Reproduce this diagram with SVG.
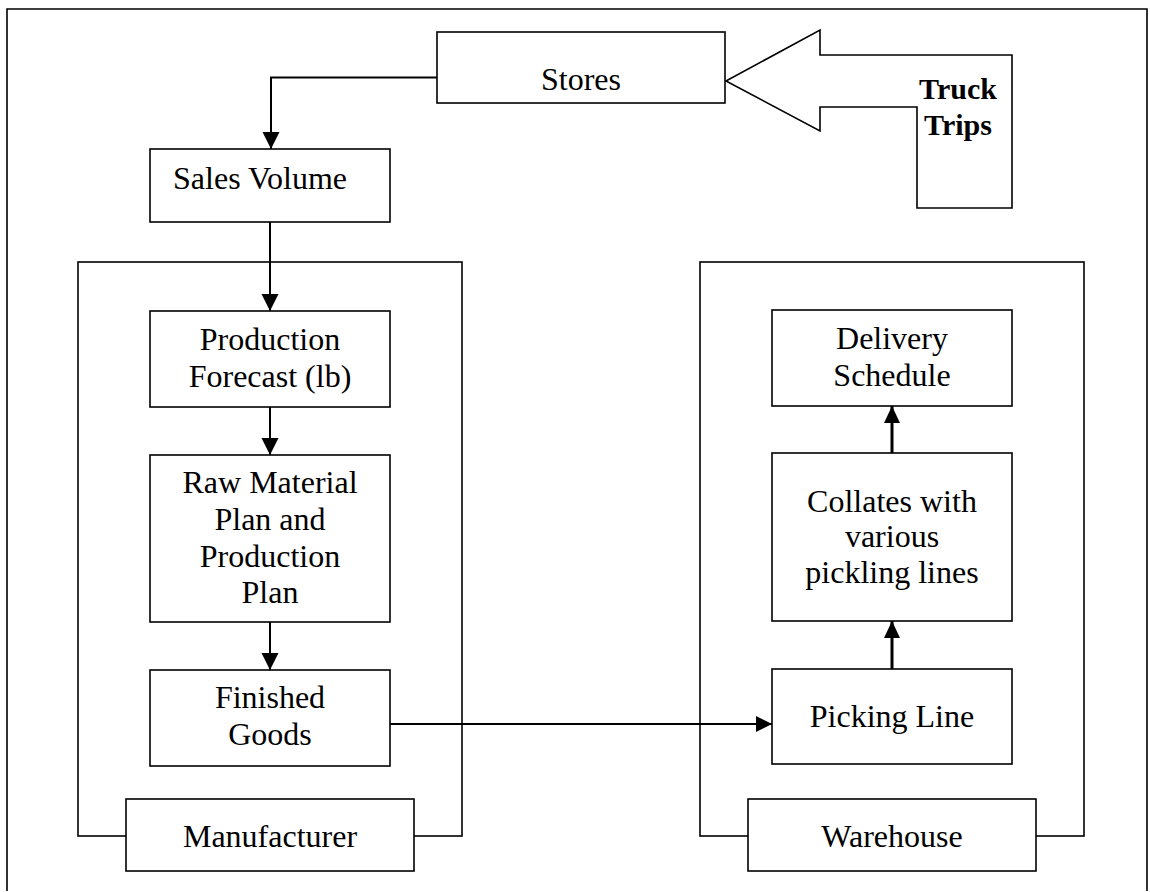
<svg xmlns="http://www.w3.org/2000/svg" width="1150" height="892" viewBox="0 0 1150 892">
  <style>
    .box { fill: #ffffff; stroke: #000000; stroke-width: 1.6; }
    .frame { fill: none; stroke: #000000; stroke-width: 1.6; }
    .wire { fill: none; stroke: #000000; stroke-width: 2; }
    .wire-thick { fill: none; stroke: #000000; stroke-width: 3; }
    .label { font-family: "Liberation Serif", "Times New Roman", serif; font-size: 32px; fill: #000000; text-anchor: middle; }
    .bold { font-family: "Liberation Serif", "Times New Roman", serif; font-size: 30px; font-weight: bold; fill: #000000; text-anchor: middle; }
  </style>
  <defs>
    <marker id="head" markerUnits="userSpaceOnUse" markerWidth="18" markerHeight="18" viewBox="0 0 18 18" refX="17" refY="9" orient="auto">
      <path d="M0,1 L17,9 L0,17 Z" fill="#000000"/>
    </marker>
    <marker id="head-narrow" markerUnits="userSpaceOnUse" markerWidth="18" markerHeight="16" viewBox="0 0 18 16" refX="16" refY="8" orient="auto">
      <path d="M0,1 L16,8 L0,15 Z" fill="#000000"/>
    </marker>
  </defs>

  <!-- page border -->
  <path class="frame" d="M7,891 L7,9 L1147,9 L1147,891" stroke-width="2"/>

  <!-- grouping frames -->
  <g id="manufacturer-frame">
    <rect class="frame" x="78" y="262" width="384" height="574"/>
  </g>
  <g id="warehouse-frame">
    <rect class="frame" x="700" y="262" width="384" height="574"/>
  </g>

  <!-- connectors -->
  <g id="connectors">
    <path class="wire" d="M437,77.5 L271,77.5 L271,149"/>
    <path class="wire" d="M270,222 L270,311"/>
    <path class="wire" d="M270,407 L270,455"/>
    <path class="wire" d="M270,622 L270,670"/>
    <path class="wire" d="M390,724 L772,724"/>
    <path class="wire-thick" d="M892,669 L892,621"/>
    <path class="wire-thick" d="M892,453 L892,406"/>
  </g>
  <g id="arrowheads">
    <path d="M262.5,132 L279.5,132 L271,149 Z"/>
    <path d="M261.5,294 L278.5,294 L270,311 Z"/>
    <path d="M261.5,438 L278.5,438 L270,455 Z"/>
    <path d="M261.5,653 L278.5,653 L270,670 Z"/>
    <path d="M756,716 L772,724 L756,732 Z"/>
    <path d="M884,638 L900,638 L892,621 Z"/>
    <path d="M884,423 L900,423 L892,406 Z"/>
  </g>

  <!-- truck trips block arrow -->
  <g id="truck-trips">
    <path class="box" d="M726,81 L820,30 L820,55 L1012,55 L1012,208 L917,208 L917,107 L820,107 L820,131 Z"/>
    <text class="bold" x="958" y="99">Truck</text>
    <text class="bold" x="958" y="135">Trips</text>
  </g>

  <g id="stores">
    <rect class="box" x="437" y="32" width="288" height="71"/>
    <text class="label" x="581" y="90">Stores</text>
  </g>

  <g id="sales-volume">
    <rect class="box" x="150" y="149" width="240" height="73"/>
    <text class="label" x="260" y="189">Sales Volume</text>
  </g>

  <g id="production-forecast">
    <rect class="box" x="150" y="311" width="240" height="96"/>
    <text class="label" x="270" y="350">Production</text>
    <text class="label" x="270" y="387">Forecast (lb)</text>
  </g>

  <g id="raw-material-plan">
    <rect class="box" x="150" y="455" width="240" height="167"/>
    <text class="label" x="270" y="493">Raw Material</text>
    <text class="label" x="270" y="530">Plan and</text>
    <text class="label" x="270" y="567">Production</text>
    <text class="label" x="270" y="603">Plan</text>
  </g>

  <g id="finished-goods">
    <rect class="box" x="150" y="670" width="240" height="96"/>
    <text class="label" x="270" y="708">Finished</text>
    <text class="label" x="270" y="745">Goods</text>
  </g>

  <g id="manufacturer">
    <rect class="box" x="126" y="799" width="288" height="72"/>
    <text class="label" x="270" y="847">Manufacturer</text>
  </g>

  <g id="delivery-schedule">
    <rect class="box" x="772" y="310" width="240" height="96"/>
    <text class="label" x="892" y="349">Delivery</text>
    <text class="label" x="892" y="386">Schedule</text>
  </g>

  <g id="collates">
    <rect class="box" x="772" y="453" width="240" height="168"/>
    <text class="label" x="892" y="512">Collates with</text>
    <text class="label" x="892" y="547">various</text>
    <text class="label" x="892" y="583">pickling lines</text>
  </g>

  <g id="picking-line">
    <rect class="box" x="772" y="669" width="240" height="95"/>
    <text class="label" x="892" y="727">Picking Line</text>
  </g>

  <g id="warehouse">
    <rect class="box" x="748" y="799" width="288" height="72"/>
    <text class="label" x="892" y="847">Warehouse</text>
  </g>
</svg>
